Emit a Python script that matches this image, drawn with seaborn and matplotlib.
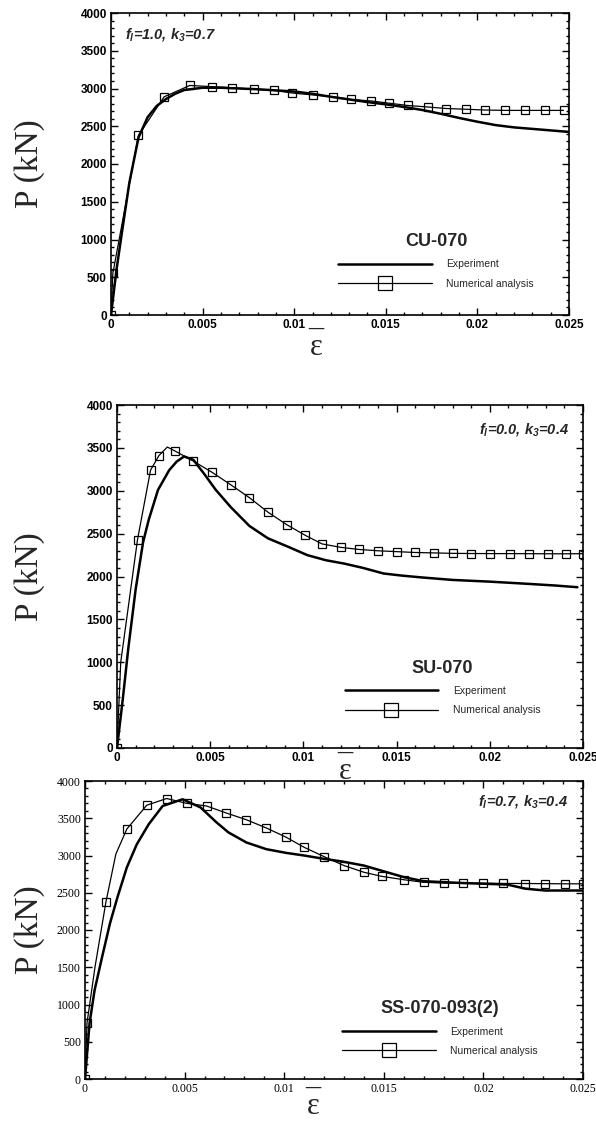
import matplotlib
matplotlib.use("Agg")
import matplotlib.pyplot as plt
from matplotlib.lines import Line2D
from matplotlib.ticker import MultipleLocator, FuncFormatter
import seaborn as sns

# ---- CU-070 (f_l=1.0, k_3=0.7) ----
cu_exp_strain = [0, 0.0003, 0.0006, 0.001, 0.0015, 0.002, 0.0025, 0.003, 0.0035, 0.004,
                 0.005, 0.006, 0.007, 0.008, 0.009, 0.010, 0.011, 0.012, 0.013, 0.014,
                 0.015, 0.016, 0.017, 0.018, 0.019, 0.020, 0.021, 0.022, 0.023, 0.024, 0.025]
cu_exp_load = [0, 600, 1100, 1750, 2350, 2620, 2770, 2860, 2930, 2980,
               3010, 3010, 3000, 2990, 2975, 2960, 2930, 2890, 2855, 2820,
               2790, 2755, 2715, 2665, 2610, 2560, 2515, 2485, 2465, 2445, 2425]
cu_num_strain = [0, 0.0001, 0.0015, 0.0029, 0.0043, 0.0055, 0.0066, 0.0078, 0.0089, 0.0099,
                 0.0110, 0.0121, 0.0131, 0.0142, 0.0152, 0.0162, 0.0173, 0.0183, 0.0194,
                 0.0204, 0.0215, 0.0226, 0.0237, 0.0247]
cu_num_load = [0, 550, 2380, 2890, 3040, 3025, 3010, 2990, 2975, 2940,
               2915, 2890, 2855, 2835, 2805, 2775, 2755, 2735, 2725,
               2715, 2710, 2710, 2710, 2710]
cu_num_marked = list(range(len(cu_num_strain)))

# ---- SU-070 (f_l=0.0, k_3=0.4) ----
su_exp_strain = [0, 0.0003, 0.0006, 0.001, 0.0014, 0.0017, 0.0022, 0.0028, 0.0032, 0.0036,
                 0.0041, 0.0047, 0.0053, 0.0061, 0.0071, 0.0081, 0.0092, 0.0102, 0.0112,
                 0.0122, 0.0132, 0.0143, 0.0153, 0.0163, 0.018, 0.020, 0.022, 0.0235, 0.0247]
su_exp_load = [0, 550, 1150, 1850, 2400, 2660, 3010, 3240, 3340, 3400,
               3360, 3190, 3010, 2810, 2590, 2445, 2345, 2250, 2190,
               2150, 2100, 2035, 2010, 1990, 1960, 1940, 1915, 1895, 1875]
su_num_strain = [0, 0.0002, 0.0011, 0.0018, 0.00225, 0.0027, 0.0031, 0.0041, 0.0051, 0.0061,
                 0.0071, 0.0081, 0.0091, 0.0101, 0.0110, 0.0120, 0.0130, 0.0140, 0.0150,
                 0.0160, 0.0170, 0.0180, 0.0190, 0.0200, 0.0211, 0.0221, 0.0231, 0.0241, 0.0250]
su_num_load = [0, 1000, 2430, 3240, 3410, 3510, 3465, 3345, 3215, 3070,
               2920, 2750, 2605, 2480, 2380, 2340, 2315, 2300, 2290,
               2280, 2275, 2270, 2268, 2267, 2267, 2266, 2265, 2265, 2266]
su_num_marked = [i for i in range(len(su_num_strain)) if i not in (1, 5)]

# ---- SS-070-093(2) (f_l=0.7, k_3=0.4) ----
ss_exp_strain = [0, 0.00023, 0.00048, 0.00086, 0.00125, 0.00163, 0.0021, 0.0026, 0.0032, 0.0039,
                 0.0049, 0.0058, 0.0066, 0.0072, 0.0081, 0.0091, 0.0101, 0.0110, 0.0120,
                 0.0129, 0.0140, 0.0149, 0.0160, 0.0170, 0.0190, 0.0212, 0.0221, 0.0231, 0.0250]
ss_exp_load = [0, 750, 1190, 1640, 2085, 2440, 2840, 3150, 3420, 3665,
               3755, 3645, 3445, 3310, 3175, 3085, 3035, 3000, 2955,
               2920, 2865, 2795, 2710, 2655, 2630, 2610, 2555, 2530, 2530]
ss_num_strain = [0, 0.0001, 0.0005, 0.00105, 0.00155, 0.0021, 0.0031, 0.0041, 0.0051, 0.0061,
                 0.0071, 0.0081, 0.0091, 0.0101, 0.0110, 0.0120, 0.0130, 0.0140, 0.0149,
                 0.0160, 0.0170, 0.0180, 0.0190, 0.0200, 0.0210, 0.0221, 0.0231, 0.0241, 0.0250]
ss_num_load = [0, 750, 1500, 2375, 3020, 3355, 3675, 3765, 3700, 3665,
               3570, 3480, 3370, 3245, 3110, 2985, 2865, 2775, 2720,
               2675, 2640, 2630, 2628, 2628, 2625, 2624, 2622, 2620, 2620]
ss_num_marked = [i for i in range(len(ss_num_strain)) if i not in (2, 4)]

specimens = ["CU-070", "SU-070", "SS-070-093(2)"]
params_text = [r"$f_l$=1.0, $k_3$=0.7", r"$f_l$=0.0, $k_3$=0.4", r"$f_l$=0.7, $k_3$=0.4"]

sns.set_style("ticks")
plt.rcParams.update({
    "font.family": ["Liberation Sans", "DejaVu Sans"],
    "mathtext.fontset": "custom",
    "mathtext.rm": "Liberation Sans:italic:bold",
    "mathtext.it": "Liberation Sans:italic:bold",
    "mathtext.bf": "Liberation Sans:italic:bold",
})

fig = plt.figure(figsize=(5.96, 11.28), dpi=100)
W, H = 596.0, 1128.0
# axes boxes in pixels: left, top, right, bottom
boxes = [(111, 13, 569, 315), (117, 405, 583, 748), (85, 781, 583, 1079)]
ylabel_x = [45, 45, 45]
xlabel_x = [316, 345, 313]
xlabel_y = [0.005, 0.03, 0.02]
note_pos = [(0.03, 0.93, "left"), (0.97, 0.93, "right"), (0.97, 0.93, "right")]
legend_anchor = [(0.935, 0.07), (0.92, 0.08), (0.92, 0.06)]
tick_family = ["Liberation Sans", "Liberation Sans", "Liberation Serif"]

series = [
    (cu_exp_strain, cu_exp_load, cu_num_strain, cu_num_load, cu_num_marked),
    (su_exp_strain, su_exp_load, su_num_strain, su_num_load, su_num_marked),
    (ss_exp_strain, ss_exp_load, ss_num_strain, ss_num_load, ss_num_marked),
]

for i, (exs, exl, nus, nul, marked) in enumerate(series):
    l, t, r, b = boxes[i]
    ax = fig.add_axes([l / W, 1 - b / H, (r - l) / W, (b - t) / H])
    ax.set_facecolor("none")

    sns.lineplot(x=exs, y=exl, ax=ax, color="black", linewidth=1.8, errorbar=None)
    sns.lineplot(x=nus, y=nul, ax=ax, color="black", linewidth=0.9, errorbar=None,
                 marker="s", markersize=5.5, markerfacecolor="none",
                 markeredgecolor="black", markeredgewidth=0.9, markevery=marked)

    ax.set_xlim(0, 0.025)
    ax.set_ylim(0, 4000)
    ax.xaxis.set_major_locator(MultipleLocator(0.005))
    ax.xaxis.set_minor_locator(MultipleLocator(0.001))
    ax.yaxis.set_major_locator(MultipleLocator(500))
    ax.yaxis.set_minor_locator(MultipleLocator(100))
    ax.xaxis.set_major_formatter(FuncFormatter(lambda v, p: "%g" % round(v, 4)))
    ax.tick_params(which="both", direction="in", top=True, right=True,
                   width=1, colors="black", pad=3)
    ax.tick_params(which="major", length=5, labelsize=8.5)
    ax.tick_params(which="minor", length=2.5)
    for lab in ax.get_xticklabels() + ax.get_yticklabels():
        lab.set_family(tick_family[i])
        lab.set_fontweight("bold" if i < 2 else "normal")
    for sp in ax.spines.values():
        sp.set_linewidth(1.2)
        sp.set_color("black")

    ax.set_ylabel("P (kN)", family="Liberation Serif", fontsize=24)
    ax.yaxis.set_label_coords((ylabel_x[i] - l) / (r - l), 0.5)
    ax.set_xlabel("\u2013\n\u03b5", family="Liberation Serif", fontsize=22, linespacing=0.55)
    ax.xaxis.set_label_coords((xlabel_x[i] - l) / (r - l), xlabel_y[i])

    nx, ny, ha = note_pos[i]
    ax.text(nx, ny, params_text[i], transform=ax.transAxes, ha=ha, va="center",
            fontsize=10.5, fontweight="bold", fontstyle="italic")

    handles = [
        Line2D([], [], color="black", linewidth=1.8),
        Line2D([], [], color="black", linewidth=0.9, marker="s", markersize=10,
               markerfacecolor="none", markeredgecolor="black", markeredgewidth=0.9),
    ]
    leg = ax.legend(handles, ["Experiment", "Numerical analysis"], loc="lower right",
                    bbox_to_anchor=legend_anchor[i], frameon=False, fontsize=7.5,
                    handlelength=9, handletextpad=1.4, labelspacing=0.9, borderpad=0,
                    title=specimens[i],
                    title_fontproperties={"weight": "bold", "size": 13})

fig.savefig("out.png", dpi=100)
